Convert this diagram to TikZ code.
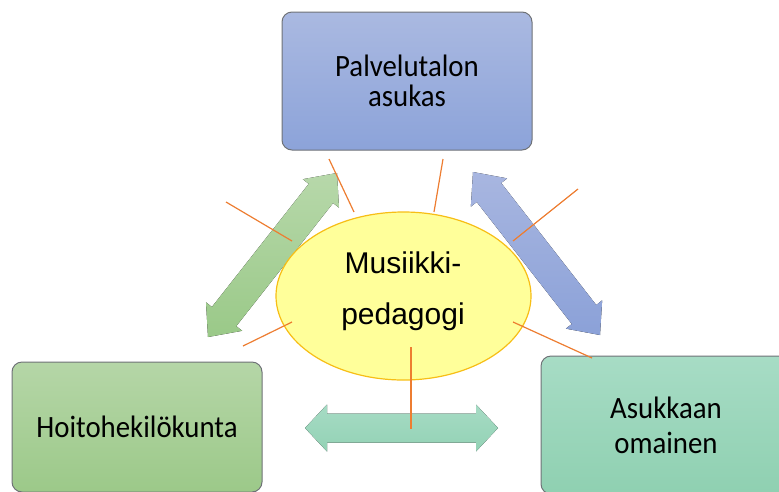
\documentclass[tikz,border=0pt]{standalone}
\usepackage{fontspec}
\setmainfont{Liberation Sans}
\newfontfamily\boxfont[FakeStretch=0.93]{Carlito}
\usetikzlibrary{calc,shapes.geometric}

\definecolor{blueTop}{HTML}{AAB9E1}
\definecolor{blueBot}{HTML}{8CA3D9}
\definecolor{greenTop}{HTML}{B5D6A7}
\definecolor{greenBot}{HTML}{9CC989}
\definecolor{tealTop}{HTML}{A7DCC5}
\definecolor{tealBot}{HTML}{8FD0B1}
\definecolor{blueArrTop}{HTML}{A8B6E0}
\definecolor{blueArrBot}{HTML}{8BA1D8}
\definecolor{greenArrTop}{HTML}{B7D8AA}
\definecolor{greenArrBot}{HTML}{9AC988}
\definecolor{tealArrTop}{HTML}{A6DBC4}
\definecolor{tealArrBot}{HTML}{93D2B5}
\definecolor{bubbleFill}{HTML}{FFFF9A}
\definecolor{bubbleEdge}{HTML}{F7BE16}
\definecolor{calloutLine}{HTML}{ED7D31}
\definecolor{boxEdge}{HTML}{6F7277}

% double-headed block arrow between two tip points
% #1, #2: tips; #3: head length; #4: head half width; #5: shaft half width; #6: style
\newcommand\twowayarrow[6]{%
  \fill[#6] (#1)
    -- ($($(#1)!#3!(#2)$)!#4!90:(#2)$)
    -- ($($(#1)!#3!(#2)$)!#5!90:(#2)$)
    -- ($($(#2)!#3!(#1)$)!#5!-90:(#1)$)
    -- ($($(#2)!#3!(#1)$)!#4!-90:(#1)$)
    -- (#2)
    -- ($($(#2)!#3!(#1)$)!#4!90:(#1)$)
    -- ($($(#2)!#3!(#1)$)!#5!90:(#1)$)
    -- ($($(#1)!#3!(#2)$)!#5!-90:(#2)$)
    -- ($($(#1)!#3!(#2)$)!#4!-90:(#2)$)
    -- cycle;}

\tikzset{
  box/.style={rectangle, rounded corners=10pt, draw=boxEdge, line width=1pt,
    minimum width=250pt, inner sep=0pt, align=center},
  boxtext/.style={font=\boxfont\fontsize{31}{#1}\selectfont},
  bubble/.style={ellipse, fill=bubbleFill, draw=bubbleEdge, line width=1.2pt,
    minimum width=255pt, minimum height=168pt, inner sep=0pt},
  bubbletext/.style={font=\fontsize{30}{51}\selectfont, align=center, inner sep=0pt},
  callout/.style={draw=calloutLine, line width=1.2pt},
}

\begin{document}
\begin{tikzpicture}[x=1pt, y=-1pt]
  \useasboundingbox (0,0) rectangle (779,491);
  \clip (0,0) rectangle (779,491);

  % the three parties
  \node[box, boxtext=30, minimum height=138pt, top color=blueTop, bottom color=blueBot]
    (resident) at (407,81) {Palvelutalon\\asukas};
  \node[box, boxtext=30, minimum height=130pt, top color=greenTop, bottom color=greenBot]
    (staff) at (137,427) {Hoitohekilökunta};
  \node[box, boxtext=35, minimum height=138pt, top color=tealTop, bottom color=tealBot]
    (relative) at (666,425) {Asukkaan\\omainen};

  % two-way arrows between the parties
  \coordinate (gA) at (208,337);
  \coordinate (gB) at (337,173);
  \coordinate (bA) at (473,172);
  \coordinate (bB) at (600,335);
  \coordinate (tA) at (305,428);
  \coordinate (tB) at (498,428);
  \twowayarrow{gA}{gB}{26pt}{23pt}{15.5pt}{top color=greenArrTop, bottom color=greenArrBot}
  \twowayarrow{bA}{bB}{26pt}{23pt}{15.5pt}{top color=blueArrTop, bottom color=blueArrBot}
  \twowayarrow{tA}{tB}{22pt}{23.5pt}{14.5pt}{top color=tealArrTop, bottom color=tealArrBot}

  % music teacher in the middle
  \node[bubble] (teacher) at (403.5,296) {};
  \node[bubbletext] (teachertext) at (403,291) {Musiikki-\\pedagogi};

  % callout lines
  \coordinate (c1a) at (329,159); \coordinate (c1b) at (354,212);
  \coordinate (c2a) at (443,159); \coordinate (c2b) at (434,212);
  \coordinate (c3a) at (226,202); \coordinate (c3b) at (292,241);
  \coordinate (c4a) at (578,189); \coordinate (c4b) at (513,241);
  \coordinate (c5a) at (292,322); \coordinate (c5b) at (243,346);
  \coordinate (c6a) at (513,322); \coordinate (c6b) at (592,358);
  \coordinate (c7a) at (411,347); \coordinate (c7b) at (411,429);
  \foreach \s/\e in {c1a/c1b, c2a/c2b, c3a/c3b, c4a/c4b, c5a/c5b, c6a/c6b, c7a/c7b}
    \draw[callout] (\s) -- (\e);
\end{tikzpicture}
\end{document}
